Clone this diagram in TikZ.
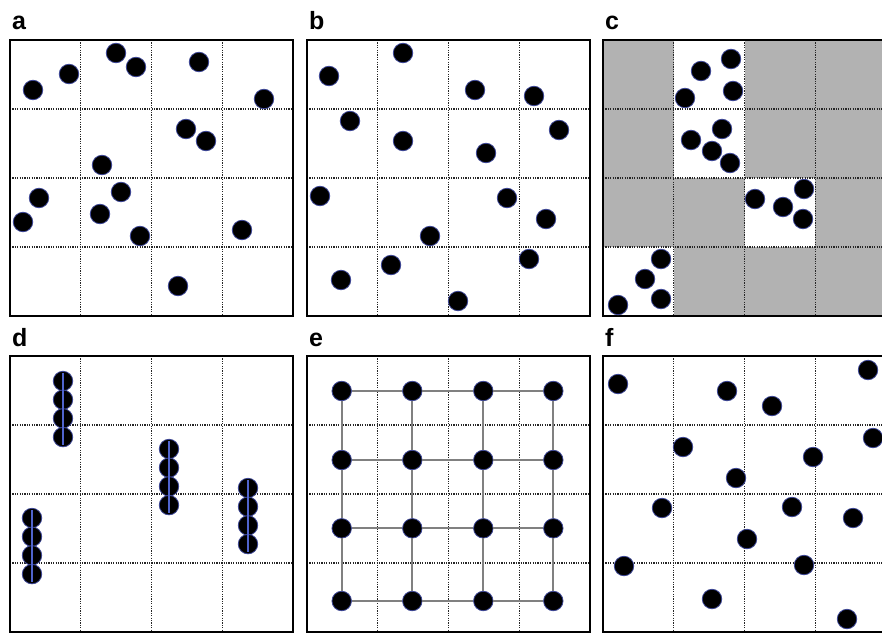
\documentclass[tikz,border=0pt]{standalone}
\usepackage{fontspec}
\newfontfamily\panelfont{Liberation Sans}
\definecolor{rimblue}{RGB}{60,70,150}
\definecolor{chainblue}{RGB}{80,100,205}

\begin{document}
\begin{tikzpicture}[x=1pt,y=-1pt,
  dot/.style={circle,fill=black,draw=rimblue,line width=0.8pt,inner sep=0pt,minimum size=19.5pt},
  cellgrid/.style={dash pattern=on 1.2pt off 1.2pt,line width=1.2pt,black!85},
  frame/.style={line width=2.6pt},
  tag/.style={anchor=base west,inner sep=0pt,font=\panelfont\bfseries\fontsize{25}{25}\selectfont},
  link/.style={line width=2pt,black!50},
  chain/.style={line width=2.2pt,chainblue,shorten >=2pt,shorten <=2pt}]
  \useasboundingbox (0,0) rectangle (882,634);
  \clip (0,0) rectangle (882,634);

  % panel c: grey cells, four open cells
  \fill[black!30] (603,40) rectangle +(283,276);
  \fill[white] (673.75,40) rectangle (744.5,178);
  \fill[white] (744.5,178) rectangle (815.25,247);
  \fill[white] (603,247) rectangle (673.75,316);

  % frames, 4x4 dotted grid and letters
  \foreach \px/\py/\lab in {10/40/a,307/40/b,603/40/c,10/356/d,307/356/e,603/356/f} {
    \begin{scope}[shift={(\px,\py)}]
      \foreach \k in {1,2,3} {
        \draw[cellgrid] (\k*70.75,0) -- (\k*70.75,276);
        \draw[cellgrid] (0,\k*69) -- (283,\k*69);
      }
      \draw[frame] (0,0) rectangle (283,276);
      \node[tag] (tag-\lab) at (2,-10) {\lab};
    \end{scope}
  }

  % a: random
  \foreach \x/\y [count=\i] in {33/90,69/74,116/53,136/67,199/62,264/99,186/129,206/141,
      102/165,39/198,121/192,23/222,100/214,140/236,242/230,178/286}
    \node[dot] (a-\i) at (\x,\y) {};

  % b: regular spread
  \foreach \x/\y [count=\i] in {329/76,403/53,475/90,534/96,350/121,403/141,486/153,559/130,
      320/196,507/198,546/219,430/236,391/265,529/259,341/280,458/301}
    \node[dot] (b-\i) at (\x,\y) {};

  % c: clustered in open cells
  \foreach \x/\y [count=\i] in {731/59,701/71,733/91,685/98,722/129,691/140,712/151,730/163,
      755/199,804/189,783/207,803/219,661/259,645/279,661/299,618/305}
    \node[dot] (c-\i) at (\x,\y) {};

  % d: vertical chains of four
  \foreach \x/\y [count=\m] in {63/381,169/449,248/488,32/518} {
    \foreach \j in {1,...,4}
      \node[dot] (d-\m-\j) at (\x,\y+18.7*\j-18.7) {};
    \draw[chain] (d-\m-1.north) -- (d-\m-4.south);
  }

  % e: lattice
  \foreach \q/\x in {1/341.7,2/412.3,3/483.3,4/553.3}
    \foreach \r/\y in {1/391,2/460,3/528.3,4/601}
      \node[dot] (e-\r-\q) at (\x,\y) {};
  \foreach \r in {1,...,4} {
    \foreach \q/\n in {1/2,2/3,3/4} {
      \draw[link] (e-\r-\q) -- (e-\r-\n);
      \draw[link] (e-\q-\r) -- (e-\n-\r);
    }
  }

  % f: random
  \foreach \x/\y [count=\i] in {618/384,727/391,772/406,868/370,683/447,813/457,873/438,736/478,
      662/508,792/507,853/518,747/539,624/566,804/565,712/599,847/619}
    \node[dot] (f-\i) at (\x,\y) {};
\end{tikzpicture}
\end{document}
